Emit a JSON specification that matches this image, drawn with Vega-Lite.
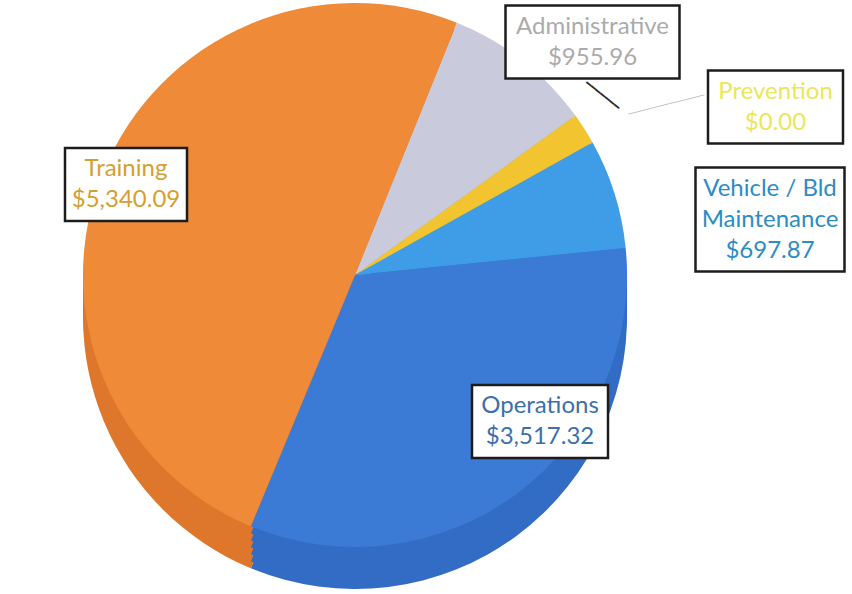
{
  "$schema": "https://vega.github.io/schema/vega-lite/v6.json",
  "width": 710,
  "height": 550,
  "autosize": {"type": "none"},
  "padding": {"left": 0, "top": 0, "right": 142, "bottom": 44},
  "background": "white",
  "config": {"view": {"stroke": null}},
  "data": {
    "values": [
      {"category": "Administrative", "idx": 1, "amount": 955.96, "wedge": 955.96, "label": "Administrative\n$955.96"},
      {"category": "Prevention", "idx": 2, "amount": 0.0, "wedge": 200, "label": "Prevention\n$0.00"},
      {"category": "Vehicle / Bld Maintenance", "idx": 3, "amount": 697.87, "wedge": 697.87, "label": "Vehicle / Bld\nMaintenance\n$697.87"},
      {"category": "Operations", "idx": 4, "amount": 3517.32, "wedge": 3517.32, "label": "Operations\n$3,517.32"},
      {"category": "Training", "idx": 5, "amount": 5340.09, "wedge": 5340.09, "label": "Training\n$5,340.09"}
    ]
  },
  "resolve": {"scale": {"theta": "independent", "radius": "independent", "color": "independent", "angle": "independent", "x": "independent", "y": "independent"}},
  "layer": [
    {
      "mark": {"type": "arc", "radius": 272, "yOffset": 42},
      "encoding": {
        "theta": {"field": "wedge", "type": "quantitative", "stack": true, "scale": {"range": [0.384, 6.667]}},
        "order": {"field": "idx", "type": "quantitative"},
        "color": {"field": "category", "type": "nominal", "legend": null,
          "scale": {"domain": ["Administrative", "Prevention", "Vehicle / Bld Maintenance", "Operations", "Training"],
                    "range": ["#A9ABBD", "#D2A520", "#2F82CC", "#326CC4", "#DE772C"]}}
      }
    },
    {
      "mark": {"type": "arc", "radius": 272, "yOffset": 35},
      "encoding": {
        "theta": {"field": "wedge", "type": "quantitative", "stack": true, "scale": {"range": [0.384, 6.667]}},
        "order": {"field": "idx", "type": "quantitative"},
        "color": {"field": "category", "type": "nominal", "legend": null,
          "scale": {"domain": ["Administrative", "Prevention", "Vehicle / Bld Maintenance", "Operations", "Training"],
                    "range": ["#A9ABBD", "#D2A520", "#2F82CC", "#326CC4", "#DE772C"]}}
      }
    },
    {
      "mark": {"type": "arc", "radius": 272, "yOffset": 28},
      "encoding": {
        "theta": {"field": "wedge", "type": "quantitative", "stack": true, "scale": {"range": [0.384, 6.667]}},
        "order": {"field": "idx", "type": "quantitative"},
        "color": {"field": "category", "type": "nominal", "legend": null,
          "scale": {"domain": ["Administrative", "Prevention", "Vehicle / Bld Maintenance", "Operations", "Training"],
                    "range": ["#A9ABBD", "#D2A520", "#2F82CC", "#326CC4", "#DE772C"]}}
      }
    },
    {
      "mark": {"type": "arc", "radius": 272, "yOffset": 21},
      "encoding": {
        "theta": {"field": "wedge", "type": "quantitative", "stack": true, "scale": {"range": [0.384, 6.667]}},
        "order": {"field": "idx", "type": "quantitative"},
        "color": {"field": "category", "type": "nominal", "legend": null,
          "scale": {"domain": ["Administrative", "Prevention", "Vehicle / Bld Maintenance", "Operations", "Training"],
                    "range": ["#A9ABBD", "#D2A520", "#2F82CC", "#326CC4", "#DE772C"]}}
      }
    },
    {
      "mark": {"type": "arc", "radius": 272, "yOffset": 14},
      "encoding": {
        "theta": {"field": "wedge", "type": "quantitative", "stack": true, "scale": {"range": [0.384, 6.667]}},
        "order": {"field": "idx", "type": "quantitative"},
        "color": {"field": "category", "type": "nominal", "legend": null,
          "scale": {"domain": ["Administrative", "Prevention", "Vehicle / Bld Maintenance", "Operations", "Training"],
                    "range": ["#A9ABBD", "#D2A520", "#2F82CC", "#326CC4", "#DE772C"]}}
      }
    },
    {
      "mark": {"type": "arc", "radius": 272, "yOffset": 7},
      "encoding": {
        "theta": {"field": "wedge", "type": "quantitative", "stack": true, "scale": {"range": [0.384, 6.667]}},
        "order": {"field": "idx", "type": "quantitative"},
        "color": {"field": "category", "type": "nominal", "legend": null,
          "scale": {"domain": ["Administrative", "Prevention", "Vehicle / Bld Maintenance", "Operations", "Training"],
                    "range": ["#A9ABBD", "#D2A520", "#2F82CC", "#326CC4", "#DE772C"]}}
      }
    },
    {
      "mark": {"type": "arc", "radius": 272},
      "encoding": {
        "theta": {"field": "wedge", "type": "quantitative", "stack": true, "scale": {"range": [0.384, 6.667]}},
        "order": {"field": "idx", "type": "quantitative"},
        "color": {"field": "category", "type": "nominal", "legend": null,
          "scale": {"domain": ["Administrative", "Prevention", "Vehicle / Bld Maintenance", "Operations", "Training"],
                    "range": ["#C9CBDC", "#F2C430", "#3E9DE6", "#3B7BD6", "#EE8A38"]}}
      }
    },
    {
      "transform": [{"filter": "datum.idx <= 2"}],
      "mark": {"type": "text", "font": "DejaVu Sans Mono", "fontSize": 10, "align": "center", "baseline": "middle"},
      "encoding": {
        "theta": {"field": "idx", "type": "quantitative", "stack": null,
          "scale": {"type": "linear", "zero": false, "domain": [1, 2], "range": [0.9434, 1.0711]}},
        "radius": {"field": "idx", "type": "quantitative",
          "scale": {"type": "linear", "zero": false, "domain": [1, 2], "range": [305.7, 354.9]}},
        "angle": {"field": "idx", "type": "quantitative",
          "scale": {"type": "linear", "zero": false, "domain": [1, 2], "range": [38.9, 345.8]}},
        "text": {"condition": {"test": "datum.idx === 1", "value": "━━━━━━━"}, "value": "─────────────"},
        "color": {"condition": {"test": "datum.idx === 1", "value": "#2a2a2a"}, "value": "#BDBDBD"}
      }
    },
    {
      "mark": {"type": "point", "filled": true, "size": 4, "fill": "#ffffff", "stroke": "#1c1c1c", "strokeWidth": 2.5, "opacity": 1, "fillOpacity": 1, "strokeOpacity": 1},
      "encoding": {
        "x": {"field": "idx", "type": "quantitative", "axis": null,
          "scale": {"type": "linear", "zero": false, "nice": false, "domain": [1, 2, 3, 4, 5], "range": [592.5, 775.5, 770, 540, 126]}},
        "y": {"field": "idx", "type": "quantitative", "axis": null,
          "scale": {"type": "linear", "zero": false, "nice": false, "domain": [1, 2, 3, 4, 5], "range": [42, 107, 219.5, 421.5, 184.5]}},
        "shape": {"field": "category", "type": "nominal", "legend": null,
          "scale": {"domain": ["Administrative", "Prevention", "Vehicle / Bld Maintenance", "Operations", "Training"],
                    "range": ["M-87,-36.5H87V36.5H-87Z", "M-67.5,-36.5H67.5V36.5H-67.5Z", "M-74.5,-52H74.5V52H-74.5Z", "M-68,-36.5H68V36.5H-68Z", "M-61,-36.5H61V36.5H-61Z"]}}
      }
    },
    {
      "mark": {"type": "text", "font": "Lato", "fontSize": 24, "lineHeight": 31, "lineBreak": "\n", "align": "center", "baseline": "middle"},
      "encoding": {
        "x": {"field": "idx", "type": "quantitative", "axis": null,
          "scale": {"type": "linear", "zero": false, "nice": false, "domain": [1, 2, 3, 4, 5], "range": [592.5, 775.5, 770, 540, 126]}},
        "y": {"field": "idx", "type": "quantitative", "axis": null,
          "scale": {"type": "linear", "zero": false, "nice": false, "domain": [1, 2, 3, 4, 5], "range": [26.5, 91.5, 188.5, 406, 169]}},
        "text": {"field": "label", "type": "nominal"},
        "color": {"field": "category", "type": "nominal", "legend": null,
          "scale": {"domain": ["Administrative", "Prevention", "Vehicle / Bld Maintenance", "Operations", "Training"],
                    "range": ["#ABABAB", "#EBE65A", "#2C8DC4", "#3C6FAE", "#D4A030"]}}
      }
    }
  ]
}
